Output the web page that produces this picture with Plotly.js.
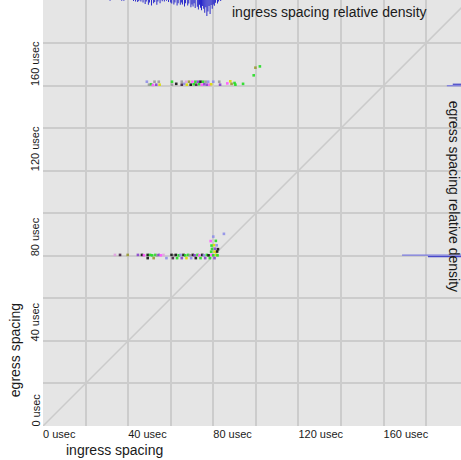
<!DOCTYPE html>
<html>
<head>
<meta charset="utf-8">
<script src="https://cdn.plot.ly/plotly-3.0.1.min.js"></script>
<style>html,body{margin:0;padding:0;background:#fff;}#chart{width:461px;height:460px;}</style>
</head>
<body>
<div id="chart"></div>
<script>
// ---- tick labels ----
const tickValues = [0, 20, 40, 60, 80, 100, 120, 140, 160, 180, 200];
const tickLabels = ['0 usec', '', '40 usec', '', '80 usec', '', '120 usec', '', '160 usec', '', ''];

// ---- scatter points: ingress spacing (x), egress spacing (y), flow id ----
const ingressSpacing = [
  33.8, 36.2, 39.8, 44.6, 46.5, 47.4, 49.2, 49.2, 50.3, 51.3, 52.0, 52.8, 53.6, 54.4, 55.3, 56.6, 58.0,
  60.4, 61.0, 61.6, 62.4, 63.0, 63.8, 64.6, 65.2, 66.0, 66.8, 67.4, 68.2, 69.0, 69.6, 70.4, 71.2, 71.8,
  72.6, 73.4, 74.0, 74.8, 75.6, 76.2, 77.0, 77.8, 78.4, 79.2, 80.0, 80.6, 81.4, 82.0,
  79.0, 80.6, 81.8, 79.4, 80.8, 82.2, 79.2, 80.4, 81.6, 78.8, 81.2, 80.0, 85.0,
  48.8, 49.8, 50.8, 51.6, 52.4, 53.2, 54.4, 54.8, 60.6, 60.6, 62.6, 65.2, 65.2, 66.4, 67.2, 67.6,
  68.6, 69.4, 70.2, 70.8, 71.6, 72.0, 72.8, 73.4, 74.0, 74.6, 75.2, 75.8, 76.4, 77.0, 77.6, 78.2,
  79.0, 80.0, 82.8, 83.2, 86.6, 88.0, 88.6, 90.0, 90.4, 94.0, 99.0, 99.8, 101.9
];
const egressSpacing = [
  80.4, 80.4, 80.4, 80.4, 80.4, 80.2, 80.4, 78.9, 80.4, 80.2, 78.9, 80.4, 80.2, 80.4, 80.2, 80.4, 78.9,
  80.4, 78.9, 80.2, 80.4, 78.9, 80.2, 80.4, 78.9, 80.4, 80.2, 78.9, 80.4, 80.2, 78.9, 80.4, 80.2, 78.9,
  80.4, 80.2, 78.9, 80.4, 80.2, 78.9, 80.4, 80.2, 78.9, 80.4, 80.2, 78.9, 80.4, 80.2,
  81.9, 81.9, 82.0, 83.2, 83.3, 83.1, 84.8, 85.0, 84.9, 86.9, 87.0, 89.0, 90.3,
  161.8, 160.4, 160.6, 160.3, 161.8, 160.4, 161.8, 160.4, 161.8, 160.4, 160.8, 161.8, 160.4, 160.8, 161.8, 160.4,
  161.8, 160.4, 161.8, 160.6, 161.8, 160.4, 161.8, 160.6, 161.8, 160.4, 161.8, 160.6, 161.8, 160.4, 161.8, 160.4,
  160.6, 161.8, 161.8, 160.4, 161.0, 162.0, 160.8, 161.2, 160.4, 160.8, 164.8, 168.4, 169.0
];
const flowId = [
  8, 9, 7, 3, 2, 0, 2, 2, 1, 1, 7, 1, 5, 3, 0, 8, 6,
  2, 9, 5, 2, 1, 1, 6, 3, 2, 1, 4, 1, 5, 6, 2, 3, 2,
  1, 0, 1, 2, 6, 3, 1, 2, 1, 0, 1, 3, 4, 1,
  1, 4, 2, 1, 3, 2, 1, 4, 6, 0, 1, 6, 6,
  6, 5, 1, 0, 5, 3, 5, 4, 1, 5, 2, 5, 9, 6, 8, 4,
  7, 2, 0, 1, 1, 9, 3, 1, 2, 0, 1, 3, 5, 3, 6, 0,
  4, 6, 5, 3, 0, 4, 7, 1, 1, 1, 1, 7, 1
];

// ---- ingress spacing relative density (top histogram), bins 31.0 .. 84.0 step 0.5 ----
const ingressBins = [];
for (let b = 31.0; b <= 84.0001; b += 0.5) ingressBins.push(Math.round(b * 10) / 10);
const ingressDensity = [
  0, 0.05, 0, 0, 0, 0, 0, 0, 0, 0,
  0, 0, 0.05, 0, 0.04, 0, 0, 0, 0, 0,
  0, 0, 0, 0.06, 0, 0.1, 0, 0.12, 0.06, 0,
  0.1, 0, 0.15, 0, 0.25, 0.1, 0, 0.3, 0.15, 0,
  0.35, 0, 0.2, 0.12, 0, 0.3, 0.1, 0, 0.2, 0,
  0.08, 0, 0.1, 0, 0.05, 0, 0.12, 0, 0.15, 0.22,
  0, 0.28, 0.15, 0, 0.35, 0.2, 0, 0.3, 0.15, 0.28,
  0, 0.4, 0.2, 0, 0.35, 0.22, 0, 0.45, 0.28, 0.4,
  0.2, 0.5, 0, 0.42, 0.6, 0.3, 0.48, 0.65, 0.38, 0.55,
  0.8, 0.45, 1.0, 0.72, 0.38, 0.88, 0.32, 0.55, 0.28, 0.36,
  0.18, 0, 0.22, 0.1, 0, 0.06, 0
];

// ---- egress spacing relative density (right histogram) ----
const egressBins = [80.3, 79.6, 160.6, 159.9];
const egressDensity = [1.0, 0.56, 0.14, 0.24];

// ---- reference line y = x ----
const diagX = [0, 200];
const diagY = [0, 200];

// ---- styles ----
const flowPalette = ['#ff55ff', '#22dd22', '#111111', '#8844cc', '#dddd00', '#999999', '#8f8fe8', '#999933', '#e0a0e0', '#442244'];
const egressColors = ['#7b7be0', '#4848c8', '#4848c8', '#7b7be0'];
const X_MAX = 196.4, Y_MAX = 200.2;
const TOP_SCALE = 7.5, RIGHT_SCALE = 27.7;

const traces = [
  {
    type: 'scatter', mode: 'lines', x: diagX, y: diagY,
    line: {color: '#cbcbcb', width: 1.5}, hoverinfo: 'skip', showlegend: false
  },
  {
    type: 'scatter', mode: 'markers', x: ingressSpacing, y: egressSpacing,
    marker: {symbol: 'square', size: 2.6, color: flowId.map(f => flowPalette[f]), line: {width: 0}, opacity: 0.9},
    showlegend: false
  },
  {
    type: 'bar', orientation: 'v', x: ingressBins,
    y: ingressDensity.map(d => -d * TOP_SCALE), base: Y_MAX,
    width: 0.42, marker: {color: '#1414c8', line: {width: 0}}, showlegend: false
  },
  {
    type: 'bar', orientation: 'h', y: egressBins,
    x: egressDensity.map(d => -d * RIGHT_SCALE), base: X_MAX,
    width: 0.6, marker: {color: egressColors, line: {width: 0}}, showlegend: false
  }
];

// y tick labels drawn as rotated annotations, starting at the grid line and reading upward
const yTickAnnotations = tickValues
  .map((v, i) => ({v: v, t: tickLabels[i]}))
  .filter(o => o.t !== '')
  .map(o => ({
    text: o.t, xref: 'paper', yref: 'y', x: -0.019, y: o.v, textangle: -90,
    xanchor: 'center', yanchor: 'bottom', yshift: -3, showarrow: false,
    font: {size: 11, color: '#1a1a1a'}
  }));

const layout = {
  width: 461, height: 460,
  margin: {l: 43, r: 0, t: 0, b: 34, pad: 0},
  paper_bgcolor: '#ffffff', plot_bgcolor: '#e5e5e5',
  barmode: 'overlay', showlegend: false,
  font: {family: 'Liberation Sans, Arial, sans-serif', color: '#1a1a1a'},
  xaxis: {
    range: [0, X_MAX], tickmode: 'array', tickvals: tickValues, ticktext: tickLabels,
    showgrid: true, gridcolor: '#cccccc', gridwidth: 2, zeroline: false, showline: false,
    ticks: '', ticklabelposition: 'outside right', tickfont: {size: 11, color: '#1a1a1a'},
    fixedrange: true
  },
  yaxis: {
    range: [0, Y_MAX], tickmode: 'array', tickvals: tickValues, ticktext: tickLabels,
    showgrid: true, gridcolor: '#cccccc', gridwidth: 2, zeroline: false, showline: false,
    ticks: '', showticklabels: false,
    fixedrange: true
  },
  annotations: [
    {text: 'ingress spacing', xref: 'paper', yref: 'paper', x: 0.17, y: -0.056,
     xanchor: 'center', yanchor: 'middle', showarrow: false, font: {size: 14, color: '#1a1a1a'}},
    {text: 'egress spacing', xref: 'paper', yref: 'paper', x: -0.067, y: 0.178, textangle: -90,
     xanchor: 'center', yanchor: 'middle', showarrow: false, font: {size: 14, color: '#1a1a1a'}},
    {text: 'ingress spacing relative density', xref: 'x', yref: 'y', x: 87.9, y: 194.5,
     xanchor: 'left', yanchor: 'middle', showarrow: false, font: {size: 14, color: '#1a1a1a'}},
    {text: 'egress spacing relative density', xref: 'x', yref: 'y', x: 192.9, y: 108, textangle: 90,
     xanchor: 'center', yanchor: 'middle', showarrow: false, font: {size: 14, color: '#1a1a1a'}}
  ].concat(yTickAnnotations)
};

Plotly.newPlot('chart', traces, layout, {staticPlot: true, displayModeBar: false});
</script>
</body>
</html>
